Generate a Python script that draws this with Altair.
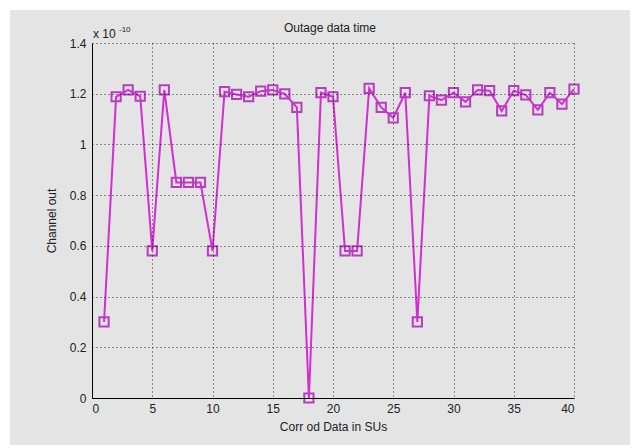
import altair as alt
import pandas as pd

# Data (values in units of 1e-10)
su = list(range(1, 41))
channel_out = [0.30, 1.188, 1.215, 1.19, 0.58, 1.215, 0.85, 0.85, 0.85, 0.58,
               1.208, 1.197, 1.188, 1.21, 1.215, 1.199, 1.146, 0.0, 1.204, 1.188,
               0.58, 0.58, 1.221, 1.146, 1.105, 1.204, 0.30, 1.192, 1.175, 1.204,
               1.168, 1.215, 1.212, 1.132, 1.212, 1.195, 1.136, 1.204, 1.159, 1.218]
x_ticks = [0, 5, 10, 15, 20, 25, 30, 35, 40]
y_ticks = [0, 0.2, 0.4, 0.6, 0.8, 1.0, 1.2, 1.4]
title_text = ["Outage data time"]

df = pd.DataFrame({"su": su, "out": channel_out})

W, H = 482, 355
FONT = "Liberation Sans"
BG = "#e4e4e4"

xs = alt.Scale(domain=[0, 40], nice=False, zero=False)
ys = alt.Scale(domain=[0, 1.4], nice=False)

x_axis = alt.Axis(values=x_ticks, title="Corr od Data in SUs", grid=True,
                  gridColor="#000", gridDash=[1, 3], gridOpacity=0.8,
                  domainColor="#000", ticks=False, labelPadding=5, zindex=1,
                  labelFont=FONT, labelFontSize=12, labelColor="#222",
                  titleFont=FONT, titleFontSize=12, titleFontWeight="normal",
                  titleColor="#222", titlePadding=7)
y_axis = alt.Axis(values=y_ticks, format=".1~f", title="Channel out", grid=True,
                  gridColor="#000", gridDash=[1, 3], gridOpacity=0.8,
                  domainColor="#000", ticks=False, labelPadding=6, zindex=1,
                  labelFont=FONT, labelFontSize=12, labelColor="#222",
                  titleFont=FONT, titleFontSize=12, titleFontWeight="normal",
                  titleColor="#222", titlePadding=11)

bg = alt.Chart(df).mark_rect(color=BG).encode(
    x=alt.value(-82), x2=alt.value(538), y=alt.value(-33), y2=alt.value(402))

base = alt.Chart(df)
line = base.mark_line(color="#d22ed2", strokeWidth=2).encode(
    x=alt.X("su:Q", scale=xs, axis=x_axis),
    y=alt.Y("out:Q", scale=ys, axis=y_axis))
pts = base.mark_point(shape="square", filled=False, size=85, strokeWidth=2,
                      color="#b63cc0", opacity=1).encode(
    x=alt.X("su:Q", scale=xs), y=alt.Y("out:Q", scale=ys))

mult = alt.Chart(pd.DataFrame({"t": ["x 10"]})).mark_text(
    font=FONT, fontSize=12, color="#222", align="left", baseline="alphabetic").encode(
    text="t:N", x=alt.value(1), y=alt.value(-5))
sup = alt.Chart(pd.DataFrame({"t": ["-10"]})).mark_text(
    font=FONT, fontSize=8, color="#222", align="left", baseline="alphabetic").encode(
    text="t:N", x=alt.value(27), y=alt.value(-11))
ttl = alt.Chart(pd.DataFrame({"t": title_text})).mark_text(
    font=FONT, fontSize=12, color="#222", align="center", baseline="middle").encode(
    text="t:N", x=alt.value(238), y=alt.value(-15))

chart = alt.layer(bg, line, pts, mult, sup, ttl).properties(
    width=W, height=H,
    autosize=alt.AutoSizeParams(type="none"),
    padding={"left": 92, "top": 43, "right": 62, "bottom": 50},
    background="white",
).configure_view(stroke=None, fill=None)

chart.save("out.html", embed_options={"renderer": "svg", "actions": False})
